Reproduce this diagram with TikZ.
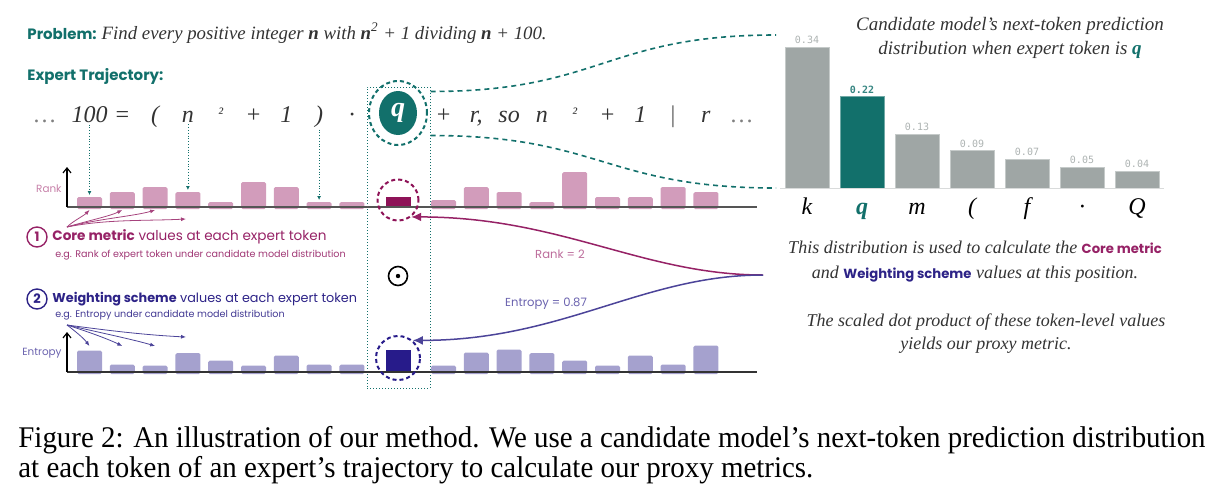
\documentclass[tikz,border=0pt]{standalone}
\usepackage{fontspec}
\setmainfont{Liberation Serif}
\newfontfamily\geofont{Poppins}
\newfontfamily\numfont{DejaVu Sans Mono}
\usetikzlibrary{arrows.meta,shapes.geometric}

\definecolor{trajteal}{HTML}{12706B}
\definecolor{corepink}{HTML}{D29CBB}
\definecolor{coredark}{HTML}{8E1358}
\definecolor{coretext}{HTML}{962266}
\definecolor{corelabel}{HTML}{C67FA8}
\definecolor{wtlav}{HTML}{A5A1CE}
\definecolor{wtdark}{HTML}{271B8A}
\definecolor{wttext}{HTML}{2D2387}
\definecolor{wtlabel}{HTML}{6A62AE}
\definecolor{probgray}{HTML}{9FA6A5}
\definecolor{axisgray}{HTML}{555555}
\definecolor{inkgray}{HTML}{333333}

\newcommand\supii{\raisebox{2pt}{\fontsize{8}{8}\selectfont ²}}
\newcommand\headfont{\geofont\bfseries\fontsize{7.5}{9}\selectfont\color{trajteal}}
\newcommand\sansbold{\geofont\bfseries\upshape\fontsize{6.6}{8}\selectfont}

\tikzset{
  tok/.style={anchor=base,inner sep=1pt,text=inkgray,font=\fontsize{12}{12}\selectfont\itshape},
  rankbar/.style={fill=corepink,rounded corners=0.8pt},
  wtbar/.style={fill=wtlav,rounded corners=0.8pt},
  hint/.style={draw=trajteal,densely dotted,line width=0.4pt,shorten >=1pt,-{Latex[length=2pt,width=2pt]}},
  zoomline/.style={draw=trajteal,line width=0.8pt,dash pattern=on 2.5pt off 2pt},
  rankarrow/.style={draw=coretext,line width=0.75pt,-{Latex[length=5pt,width=4.5pt]}},
  wtarrow/.style={draw=wttext!85!white,line width=0.75pt,-{Latex[length=5pt,width=4.5pt]}},
  corepointer/.style={draw=coretext!85,line width=0.4pt,-{Latex[length=2.5pt,width=2pt]}},
  wtpointer/.style={draw=wttext!85,line width=0.4pt,-{Latex[length=2.5pt,width=2pt]}},
  numcircle/.style={circle,draw,line width=0.7pt,minimum size=10pt,inner sep=0pt,font=\geofont\bfseries\fontsize{6.5}{7}\selectfont},
  problabel/.style={anchor=south,inner sep=1.5pt,font=\numfont\fontsize{5}{6}\selectfont},
  axis/.style={draw=axisgray,line width=0.9pt}
}

\begin{document}
\begin{tikzpicture}[x=0.5pt,y=-0.5pt]
\useasboundingbox (0,0) rectangle (1219,499);

% header lines
\node[anchor=base west,inner sep=0] (problem) at (27,39) {{\headfont Problem:}\ {\fontsize{9.4}{10}\selectfont\itshape\color{inkgray}Find every positive integer \textbf{n} with \textbf{n}\textsuperscript{2} + 1 dividing \textbf{n} + 100.}};
\node[anchor=base west,inner sep=0] (expert) at (27,80) {\headfont Expert Trajectory:};

% expert tokens
\node[tok,text=gray] (dots-l) at (45,122) {…};
\foreach \t [count=\i] in {{100},{=},{(},{n},{\supii},{+},{1},{)},{·}}
  \node[tok] (l-\i) at ({89.5+32.8*(\i-1)},122) {\t};
\foreach \t [count=\i] in {{+},{r,},{so},{n},{\supii},{+},{1},{\upshape\color{axisgray}|},{r}}
  \node[tok] (r-\i) at ({443.5+32.8*(\i-1)},122) {\t};
\node[tok,text=gray] (dots-r) at (742,122) {…};

% focus column
\node[draw=trajteal,densely dotted,line width=0.5pt,minimum width=31.5pt,minimum height=150.5pt,inner sep=0pt] (focus) at (398.5,237.5) {};
\node[ellipse,fill=trajteal,minimum width=19pt,minimum height=22pt,inner sep=0pt,text=white,font=\fontsize{14}{14}\selectfont\bfseries\itshape] (qtok) at (398,113) {q};
\node[ellipse,draw=trajteal,line width=1pt,dash pattern=on 2pt off 1.5pt,minimum width=29pt,minimum height=32pt] (qring) at (398,113) {};

% rank bars
\foreach \h [count=\i] in {10,15,20,15,5,25,20,5,5} {
  \pgfmathsetmacro\xc{89.5+32.8*(\i-1)}
  \fill[rankbar] (\xc-12.5,209) rectangle (\xc+12.5,207-\h);
  \coordinate (rk-\i) at (\xc,207-\h);
  \coordinate (rkb-\i) at (\xc,210);
}
\foreach \h [count=\i] in {7,20,15,5,35,10,10,20,15} {
  \pgfmathsetmacro\xc{443.5+32.8*(\i-1)}
  \fill[rankbar] (\xc-12.5,209) rectangle (\xc+12.5,207-\h);
}
\fill[coredark] (386,207) rectangle (411,197);
\draw[axis] (67,207) -- (757,207);
\draw[draw=black,line width=0.6pt,-{Straight Barb[length=2.5pt,width=4pt]}] (67,207) -- (67,167);
\node[anchor=east,inner sep=0pt,text=corelabel,font=\geofont\fontsize{5.2}{6}\selectfont] (ranklab) at (62,189) {Rank};

% weighting bars
\foreach \h [count=\i] in {21.5,7.5,6.5,19,11.5,6.5,16.5,7.5,7.5} {
  \pgfmathsetmacro\xc{89.5+32.8*(\i-1)}
  \fill[wtbar] (\xc-12.5,374) rectangle (\xc+12.5,372-\h);
  \coordinate (wt-\i) at (\xc,346);
}
\foreach \h [count=\i] in {6.5,19.5,22.5,19,11.5,6.5,16.5,7.5,26.5} {
  \pgfmathsetmacro\xc{443.5+32.8*(\i-1)}
  \fill[wtbar] (\xc-12.5,374) rectangle (\xc+12.5,372-\h);
}
\fill[wtdark] (386,372) rectangle (411,350);
\draw[axis,draw=inkgray] (67,372) -- (757,372);
\draw[draw=black,line width=0.6pt,-{Straight Barb[length=2.5pt,width=4pt]}] (67,372) -- (67,332);
\node[anchor=east,inner sep=0pt,text=wtlabel,font=\geofont\fontsize{5.2}{6}\selectfont] (entlab) at (62,353) {Entropy};

% token to bar hints
\draw[hint] (l-1.south) -- (rk-1);
\draw[hint] (l-4.south) -- (rk-4);
\draw[hint] (l-8.south) -- (rk-8);

% rings and dot product
\node[circle,draw=coredark,line width=1pt,dash pattern=on 2pt off 1.5pt,minimum size=20.5pt] (rkring) at (398,200) {};
\node[circle,draw=wtdark,line width=1pt,dash pattern=on 2pt off 1.5pt,minimum size=22pt] (wtring) at (398,358) {};
\node[circle,draw=black,line width=0.8pt,minimum size=9.5pt,inner sep=0pt] (odot) at (398,276) {};
\fill (odot.center) circle (1.1pt);

% legend on the left
\node[numcircle,draw=coretext,text=coretext] (one) at (37,237) {1};
\node[anchor=west,inner sep=0pt,text=coretext,font=\geofont\fontsize{6.8}{8}\selectfont] (coretitle) at (52,237) {\textbf{Core metric} values at each expert token};
\node[anchor=west,inner sep=0pt,text=coretext!90,font=\geofont\fontsize{4.8}{5.5}\selectfont] (coresub) at (55,255) {e.g. Rank of expert token under candidate model distribution};
\node[numcircle,draw=wttext,text=wttext] (two) at (37,299) {2};
\node[anchor=west,inner sep=0pt,text=wttext,font=\geofont\fontsize{6.4}{8}\selectfont] (wttitle) at (52,299) {\textbf{Weighting scheme} values at each expert token};
\node[anchor=west,inner sep=0pt,text=wttext!90,font=\geofont\fontsize{4.8}{5.5}\selectfont] (wtsub) at (55,315) {e.g. Entropy under candidate model distribution};

\coordinate (coresrc) at (67,227);
\draw[corepointer] (coresrc) .. controls +(6,-6) and +(-6,6) .. (rkb-1);
\draw[corepointer] (coresrc) .. controls +(20,-6) and +(-12,6) .. (rkb-2);
\draw[corepointer] (coresrc) .. controls +(30,-8) and +(-20,6) .. (rkb-3);
\coordinate (corefree) at (186,219);
\draw[corepointer] (coresrc) .. controls +(40,-8) and +(-40,2) .. (corefree);

\coordinate (wtsrc) at (67,325);
\draw[wtpointer] (wtsrc) .. controls +(8,6) and +(-6,-8) .. (wt-1);
\draw[wtpointer] (wtsrc) .. controls +(25,8) and +(-12,-6) .. (wt-2);
\draw[wtpointer] (wtsrc) .. controls +(35,8) and +(-20,-6) .. (wt-3);
\coordinate (wtfree) at (186,337);
\draw[wtpointer] (wtsrc) .. controls +(45,6) and +(-40,-2) .. (wtfree);

% distribution chart
\foreach \v/\lab/\c [count=\i] in {0.34/k/probgray,0.22/q/trajteal,0.13/m/probgray,0.09/{(}/probgray,0.07/f/probgray,0.05/·/probgray,0.04/Q/probgray} {
  \pgfmathsetmacro\xl{785+55*(\i-1)}
  \pgfmathsetmacro\yt{188-415*\v}
  \draw[fill=\c,draw=\c!60!white,line width=0.4pt] (\xl,188) rectangle (\xl+44,\yt);
  \node[problabel,text=\c!85!white] (pv-\i) at (\xl+22,\yt) {\ifnum\i=2 \bfseries\fi\v};
  \node[tok,text=black] (pt-\i) at (\xl+22,214) {\ifnum\i=2 \bfseries\color{trajteal}\fi\lab};
}
\draw[draw=probgray!40,line width=0.5pt] (780,188.5) -- (1164,188.5);
\coordinate (chtop) at (776,35);
\coordinate (chbot) at (776,188);
\node[align=center,text=inkgray,font=\fontsize{9.5}{12}\selectfont\itshape] (chtitle) at (1010,38) {Candidate model’s next-token prediction\\distribution when expert token is {\bfseries\color{trajteal}q}};

% zoom lines from q to chart
\draw[zoomline] ([yshift=-2.5pt]focus.north east) .. controls +(170,0) and +(-170,0) .. (chtop);
\draw[zoomline] ([yshift=-24.5pt]focus.north east) .. controls +(170,0) and +(-170,0) .. (chbot);

% explanation and arrows back
\node[align=center,text=inkgray,font=\fontsize{9}{12.5}\selectfont\itshape] (explain) at (975,262) {This distribution is used to calculate the {\sansbold\color{coretext}Core metric}\\and {\sansbold\color{wttext}Weighting scheme} values at this position.};
\node[align=center,text=inkgray,font=\fontsize{9}{11.5}\selectfont\itshape] (proxy) at (986,334) {The scaled dot product of these token-level values\\yields our proxy metric.};
\coordinate (split) at (763,275);
\draw[rankarrow] (split) .. controls +(-120,0) and +(150,0) .. (rkring.-52);
\draw[wtarrow] (split) .. controls +(-120,0) and +(150,0) .. (wtring.50);
\node[text=corelabel!80!coretext,font=\geofont\fontsize{5.8}{7}\selectfont] (ranktxt) at (560,254) {Rank = 2};
\node[text=wtlabel,font=\geofont\fontsize{5.8}{7}\selectfont] (enttxt) at (546,304) {Entropy = 0.87};

% caption
\node[anchor=base west,inner sep=0pt] (caption) at (18,447) {\resizebox{593.5pt}{\height}{\fontsize{15}{15}\selectfont\begin{tabular}[t]{@{}l@{}}Figure 2: An illustration of our method. We use a candidate model’s next-token prediction distribution\\at each token of an expert’s trajectory to calculate our proxy metrics.\end{tabular}}};

\end{tikzpicture}
\end{document}
